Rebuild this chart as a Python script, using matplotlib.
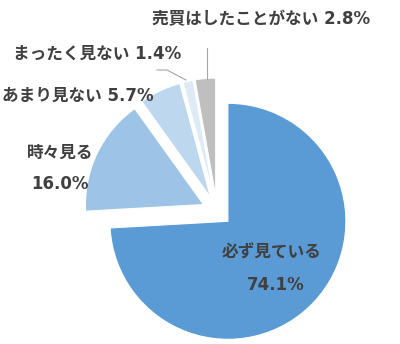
import matplotlib
matplotlib.use("Agg")
import matplotlib.pyplot as plt

plt.rcParams['font.family'] = ['DejaVu Sans', 'Noto Sans CJK JP']

categories = ["必ず見ている", "時々見る", "あまり見ない", "まったく見ない", "売買はしたことがない"]
values = [74.1, 16.0, 5.7, 1.4, 2.8]
colors = ["#5B9BD5", "#9DC3E6", "#BDD7EE", "#DEEBF7", "#BFBFBF"]

W, H = 400, 344
fig = plt.figure(figsize=(W / 100, H / 100), dpi=100)
ax = fig.add_axes([0, 0, 1, 1])

cx, cy = 217, 211
R = 118
ax.pie(values, colors=colors, startangle=90, counterclock=False,
       center=(cx, H - cy), radius=R, explode=[15] * len(values),
       wedgeprops=dict(linewidth=0.8, edgecolor="white"))
ax.set_xlim(0, W)
ax.set_ylim(0, H)
ax.set_aspect('equal')
ax.axis('off')

tc = "#404040"
fs = 12
def t(x, y, s, ha='center'):
    ax.text(x, H - y, s, ha=ha, va='center', fontsize=fs, fontweight='bold', color=tc)

t(272, 253, f"{categories[0]}")
t(276, 285, f"{values[0]:.1f}%")
t(60, 153, f"{categories[1]}")
t(60, 184, f"{values[1]:.1f}%")
t(78, 96, f"{categories[2]} {values[2]:.1f}%")
t(97, 54, f"{categories[3]} {values[3]:.1f}%")
t(261, 19, f"{categories[4]} {values[4]:.1f}%")

lc = "#A6A6A6"
ax.plot([207, 207], [H - 48, H - 79], color=lc, lw=0.8)
ax.plot([157, 167, 186], [H - 70, H - 70, H - 80], color=lc, lw=0.8)

fig.savefig("out.png", dpi=100)
